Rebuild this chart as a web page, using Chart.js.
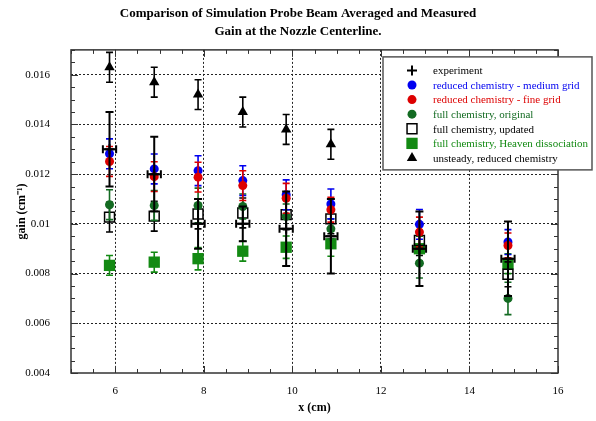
<!DOCTYPE html>
<html>
<head>
<meta charset="utf-8">
<script src="https://cdn.jsdelivr.net/npm/chart.js@4.4.1/dist/chart.umd.min.js"></script>
<style>
  html, body { margin: 0; padding: 0; background: #fff; }
</style>
</head>
<body>
<canvas id="gainChart" width="596" height="421"></canvas>
<script>
// posities langs de straal (cm)
const xPos = [5.87, 6.88, 7.87, 8.88, 9.86, 10.87, 12.87, 14.87];

// meting
const experiment = [0.0130, 0.0120, 0.0100, 0.0100, 0.0098, 0.0095, 0.0090, 0.0086];
const experimentErr = [0.0015, 0.0015, 0.0010, 0.0007, 0.0015, 0.0015, 0.0015, 0.0015];
const experimentXErr = [0.15, 0.15, 0.15, 0.15, 0.15, 0.15, 0.15, 0.15];

// simulaties
const reducedMedium = [0.01282, 0.01221, 0.01214, 0.01174, 0.01117, 0.01080, 0.00998, 0.00927];
const reducedMediumErr = [0.0006, 0.0006, 0.0006, 0.0006, 0.0006, 0.0006, 0.0006, 0.0005];
const reducedFine = [0.01251, 0.01190, 0.01188, 0.01154, 0.01103, 0.01057, 0.00967, 0.00913];
const reducedFineErr = [0.0006, 0.0006, 0.0006, 0.0006, 0.0006, 0.0005, 0.0006, 0.0005];
const fullOriginal = [0.01077, 0.01074, 0.01074, 0.01070, 0.01030, 0.00980, 0.00842, 0.00700];
const fullOriginalErr = [0.0006, 0.0006, 0.0007, 0.0005, 0.0005, 0.0004, 0.0006, 0.00065];
const fullUpdated = [0.01027, 0.01031, 0.01040, 0.01044, 0.01037, 0.01020, 0.00933, 0.00797];
const fullUpdatedErr = [0.0006, 0.0006, 0.0006, 0.0006, 0.0006, 0.0006, 0.0006, 0.0005];
const fullHeaven = [0.00833, 0.00846, 0.00860, 0.00890, 0.00906, 0.00920, 0.00900, 0.00840];
const fullHeavenErr = [0.0004, 0.0004, 0.00045, 0.0004, 0.00045, 0.0005, 0.0005, 0.0004];
const unsteadyX = [5.87, 6.88, 7.87, 8.88, 9.86, 10.87];
const unsteady = [0.0163, 0.0157, 0.0152, 0.0145, 0.0138, 0.0132];
const unsteadyErr = [0.0006, 0.0006, 0.0006, 0.0006, 0.0006, 0.0006];

const xTicks = [6, 8, 10, 12, 14, 16];
const yTicks = [0.004, 0.006, 0.008, 0.010, 0.012, 0.014, 0.016];

const serif = "'Liberation Serif', 'Times New Roman', serif";

const toPoints = (xs, ys) => xs.map((x, i) => ({ x: x, y: ys[i] }));

// Foutbalken tekenen, per dataset vlak voor de punten
const errorBars = {
    id: 'errorBars',
    beforeDatasetDraw(chart, args) {
        const ds = chart.data.datasets[args.index];
        if (!ds.yErr) return;
        const { ctx, scales: { x, y } } = chart;
        const cap = ds.capSize || 3.5;
        ctx.save();
        ctx.strokeStyle = ds.errColor || ds.borderColor;
        ctx.lineWidth = ds.errWidth || 1.6;
        ds.data.forEach((p, i) => {
            const px = x.getPixelForValue(p.x);
            const top = y.getPixelForValue(p.y + ds.yErr[i]);
            const bot = y.getPixelForValue(p.y - ds.yErr[i]);
            ctx.beginPath();
            ctx.moveTo(px, top); ctx.lineTo(px, bot);
            ctx.moveTo(px - cap, top); ctx.lineTo(px + cap, top);
            ctx.moveTo(px - cap, bot); ctx.lineTo(px + cap, bot);
            if (ds.xErr) {
                const py = y.getPixelForValue(p.y);
                const l = x.getPixelForValue(p.x - ds.xErr[i]);
                const r = x.getPixelForValue(p.x + ds.xErr[i]);
                ctx.moveTo(l, py); ctx.lineTo(r, py);
                ctx.moveTo(l, py - cap); ctx.lineTo(l, py + cap);
                ctx.moveTo(r, py - cap); ctx.lineTo(r, py + cap);
            }
            ctx.stroke();
        });
        ctx.restore();
    }
};

// Kader met naar binnen wijzende streepjes
const frameTicks = {
    id: 'frameTicks',
    afterDraw(chart) {
        const { ctx, chartArea: a, scales: { x, y } } = chart;
        ctx.save();
        ctx.strokeStyle = '#333';
        ctx.lineWidth = 1.5;
        ctx.strokeRect(a.left, a.top, a.right - a.left, a.bottom - a.top);
        ctx.lineWidth = 1;
        ctx.beginPath();
        for (let v = x.min; v <= x.max + 1e-9; v += 0.5) {
            const px = Math.round(x.getPixelForValue(v)) + 0.5;
            const len = (Math.abs(v % 2) < 1e-9) ? 7 : 4;
            ctx.moveTo(px, a.bottom); ctx.lineTo(px, a.bottom - len);
            ctx.moveTo(px, a.top); ctx.lineTo(px, a.top + len);
        }
        for (let k = 0; k * 0.0005 + y.min <= y.max + 1e-9; k++) {
            const v = y.min + k * 0.0005;
            const py = Math.round(y.getPixelForValue(v)) + 0.5;
            const len = (k % 4 === 0) ? 7 : 4;
            ctx.moveTo(a.left, py); ctx.lineTo(a.left + len, py);
            ctx.moveTo(a.right, py); ctx.lineTo(a.right - len, py);
        }
        ctx.stroke();
        ctx.restore();
    }
};

// Legenda in een kader rechtsboven
const boxLegend = {
    id: 'boxLegend',
    afterDraw(chart) {
        const { ctx, chartArea: a } = chart;
        const left = a.left + 312, top = a.top + 7, w = 209, h = 113;
        ctx.save();
        ctx.fillStyle = '#fff';
        ctx.fillRect(left, top, w, h);
        ctx.strokeStyle = '#555';
        ctx.lineWidth = 1.5;
        ctx.strokeRect(left, top, w, h);
        ctx.font = '11px ' + serif;
        ctx.textBaseline = 'middle';
        ctx.textAlign = 'left';
        chart.data.datasets.forEach((ds, i) => {
            const ry = top + 13.5 + i * 14.6;
            ctx.fillStyle = ds.backgroundColor;
            ctx.strokeStyle = ds.borderColor;
            ctx.lineWidth = ds.borderWidth;
            Chart.helpers.drawPoint(ctx, {
                pointStyle: ds.pointStyle,
                radius: ds.legendRadius || ds.pointRadius,
                rotation: 0,
                borderWidth: ds.borderWidth
            }, left + 29, ry);
            ctx.fillStyle = ds.legendColor;
            ctx.fillText(ds.label, left + 50, ry + 1);
        });
        ctx.restore();
    }
};

const blue = '#0000f0', red = '#dd0000', darkGreen = '#136b22', green = '#138a13';

new Chart(document.getElementById('gainChart').getContext('2d'), {
    type: 'scatter',
    data: {
        datasets: [
            { label: 'experiment', data: toPoints(xPos, experiment), yErr: experimentErr, xErr: experimentXErr,
              pointStyle: 'cross', pointRadius: 5, legendRadius: 5, borderWidth: 2, borderColor: '#000', backgroundColor: '#000',
              errWidth: 2, capSize: 4, legendColor: '#000', order: 0 },
            { label: 'reduced chemistry - medium grid', data: toPoints(xPos, reducedMedium), yErr: reducedMediumErr,
              pointStyle: 'circle', pointRadius: 4.5, borderWidth: 0, borderColor: blue, backgroundColor: blue,
              legendColor: blue, order: 2 },
            { label: 'reduced chemistry - fine grid', data: toPoints(xPos, reducedFine), yErr: reducedFineErr,
              pointStyle: 'circle', pointRadius: 4.5, borderWidth: 0, borderColor: red, backgroundColor: red,
              legendColor: red, order: 1 },
            { label: 'full chemistry, original', data: toPoints(xPos, fullOriginal), yErr: fullOriginalErr,
              pointStyle: 'circle', pointRadius: 4.5, borderWidth: 0, borderColor: darkGreen, backgroundColor: darkGreen,
              legendColor: darkGreen, order: 3 },
            { label: 'full chemistry, updated', data: toPoints(xPos, fullUpdated), yErr: fullUpdatedErr,
              pointStyle: 'rect', pointRadius: 7, borderWidth: 1.5, borderColor: '#000', backgroundColor: 'rgba(255,255,255,0)',
              legendColor: '#000', order: 4 },
            { label: 'full chemistry, Heaven dissociation', data: toPoints(xPos, fullHeaven), yErr: fullHeavenErr,
              pointStyle: 'rect', pointRadius: 8, borderWidth: 0, borderColor: green, backgroundColor: green,
              legendColor: green, order: 5 },
            { label: 'unsteady, reduced chemistry', data: toPoints(unsteadyX, unsteady), yErr: unsteadyErr,
              pointStyle: 'triangle', pointRadius: 6, borderWidth: 0, borderColor: '#000', backgroundColor: '#000',
              legendColor: '#000', order: 6 }
        ]
    },
    options: {
        responsive: false,
        animation: false,
        events: [],
        layout: { padding: 0 },
        plugins: {
            legend: { display: false },
            tooltip: { enabled: false },
            title: {
                display: true,
                text: ['Comparison of Simulation Probe Beam Averaged and Measured', 'Gain at the Nozzle Centerline.'],
                color: '#000',
                font: { family: serif, size: 13, weight: 'bold', lineHeight: 1.38 },
                padding: { top: 5, bottom: 9 }
            }
        },
        scales: {
            x: {
                type: 'linear',
                min: 5,
                max: 16,
                afterBuildTicks: s => { s.ticks = xTicks.map(v => ({ value: v })); },
                afterFit: s => { s.height = 48; },
                ticks: { color: '#000', font: { family: serif, size: 11 }, padding: 12 },
                grid: {
                    drawTicks: false,
                    color: c => (c.tick && c.tick.value === 16) ? 'rgba(0,0,0,0)' : '#222'
                },
                border: { display: false, dash: [2, 2] },
                title: { display: true, text: 'x (cm)', color: '#000',
                         font: { family: serif, size: 12, weight: 'bold' }, padding: { top: 0, bottom: 6 } }
            },
            y: {
                type: 'linear',
                min: 0.004,
                max: 0.017,
                afterBuildTicks: s => { s.ticks = yTicks.map(v => ({ value: v })); },
                afterFit: s => { s.width = 71; },
                ticks: { color: '#000', font: { family: serif, size: 11 }, padding: 21,
                         callback: v => String(Number(v.toFixed(3))) },
                grid: {
                    drawTicks: false,
                    color: c => (c.tick && c.tick.value === 0.004) ? 'rgba(0,0,0,0)' : '#222'
                },
                border: { display: false, dash: [2, 2] },
                title: { display: true, text: 'gain (cm⁻¹)', color: '#000',
                         font: { family: serif, size: 12, weight: 'bold' }, padding: { top: 15, bottom: 0 } }
            },
            // lege as rechts: houdt de ruimte naast het plotvlak vrij
            yRight: {
                type: 'linear',
                position: 'right',
                min: 0.004,
                max: 0.017,
                afterFit: s => { s.width = 38; },
                ticks: { display: false },
                grid: { display: false },
                border: { display: false }
            }
        }
    },
    plugins: [errorBars, frameTicks, boxLegend]
});
</script>
</body>
</html>
